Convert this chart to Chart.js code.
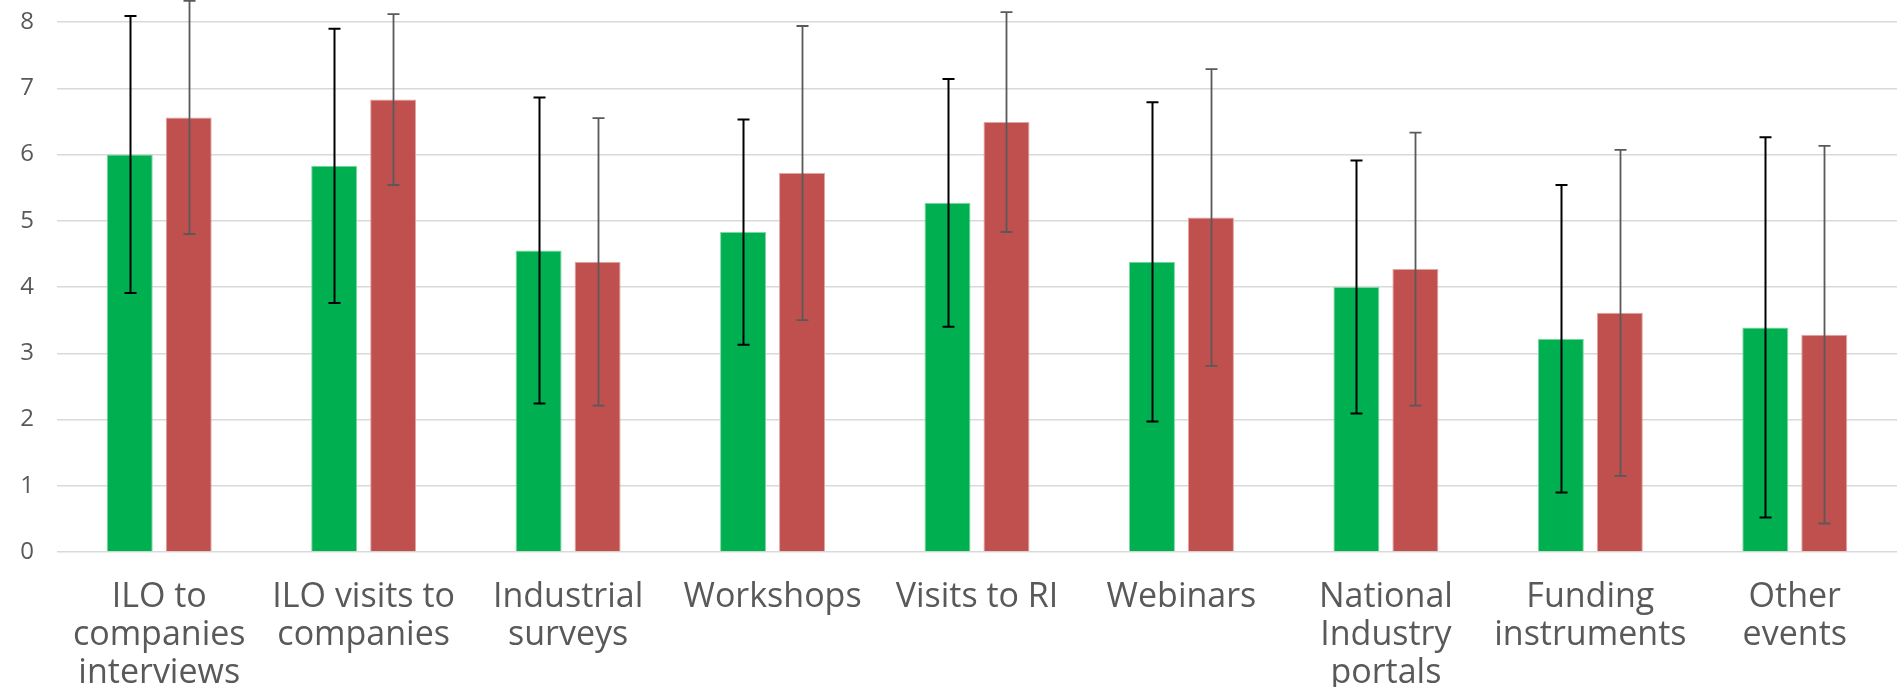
<!DOCTYPE html>
<html>
<head>
<meta charset="utf-8">
<script src="https://cdn.jsdelivr.net/npm/chart.js@4"></script>
<style>
  html, body { margin: 0; padding: 0; background: #fff; }
  #wrap { width: 1897px; height: 687px; }
</style>
</head>
<body>
<div id="wrap"><canvas id="myChart"></canvas></div>
<script>
const categories = [
  ['ILO to', 'companies', 'interviews'],
  ['ILO visits to', 'companies'],
  ['Industrial', 'surveys'],
  'Workshops',
  'Visits to RI',
  'Webinars',
  ['National', 'Industry', 'portals'],
  ['Funding', 'instruments'],
  ['Other', 'events']
]
const greenValues = [6.00, 5.83, 4.55, 4.83, 5.27, 4.38, 4.00, 3.22, 3.39]
const greenErrors = [2.09, 2.07, 2.31, 1.70, 1.87, 2.41, 1.91, 2.32, 2.87]
const redValues = [6.56, 6.83, 4.38, 5.72, 6.49, 5.05, 4.27, 3.61, 3.28]
const redErrors = [1.76, 1.29, 2.17, 2.22, 1.66, 2.24, 2.06, 2.46, 2.85]
const yTicks = [0, 1, 2, 3, 4, 5, 6, 7, 8]

// draws the +/- error whiskers from the dataset's errors array
const errorBars = {
  id: 'errorBars',
  afterDatasetsDraw(chart) {
    const ctx = chart.ctx
    const y = chart.scales.y
    chart.data.datasets.forEach((ds, i) => {
      const meta = chart.getDatasetMeta(i)
      ctx.save()
      ctx.strokeStyle = ds.errorColor
      ctx.lineWidth = ds.errorWidth
      meta.data.forEach((bar, j) => {
        const top = y.getPixelForValue(ds.data[j] + ds.errors[j])
        const bottom = y.getPixelForValue(ds.data[j] - ds.errors[j])
        const x = Math.round(bar.x) + 0.5
        ctx.beginPath()
        ctx.moveTo(x, top)
        ctx.lineTo(x, bottom)
        ctx.moveTo(x - 6, top)
        ctx.lineTo(x + 6, top)
        ctx.moveTo(x - 6, bottom)
        ctx.lineTo(x + 6, bottom)
        ctx.stroke()
      })
      ctx.restore()
    })
  }
}

new Chart('myChart', {
  type: 'bar',
  data: {
    labels: categories,
    datasets: [{
      data: greenValues,
      errors: greenErrors,
      errorColor: '#000000',
      errorWidth: 2,
      backgroundColor: '#00B050',
      borderColor: '#7fd6a3',
      borderWidth: 1,
      categoryPercentage: 0.577,
      barPercentage: 0.78
    },
    {
      data: redValues,
      errors: redErrors,
      errorColor: '#595959',
      errorWidth: 1.8,
      backgroundColor: '#C0504D',
      borderColor: '#e0a5a3',
      borderWidth: 1,
      categoryPercentage: 0.577,
      barPercentage: 0.78
    }]
  },
  options: {
    responsive: true,
    maintainAspectRatio: false,
    animation: false,
    layout: { padding: { left: 0, top: 22, right: 0, bottom: 0 } },
    plugins: {
      legend: { display: false },
      tooltip: { enabled: false }
    },
    scales: {
      x: {
        grid: { display: false },
        border: { display: false },
        afterFit: (axis) => { axis.height = 135; axis.paddingLeft = 0; axis.paddingRight = 0 },
        ticks: {
          color: '#595959',
          font: { family: 'Open Sans', size: 34, lineHeight: 1.12 },
          padding: 18,
          maxRotation: 0,
          autoSkip: false
        }
      },
      y: {
        min: 0,
        max: 8,
        afterBuildTicks: (axis) => { axis.ticks = yTicks.map(v => ({ value: v })) },
        afterFit: (axis) => { axis.width = 57; axis.paddingTop = 0; axis.paddingBottom = 0 },
        grid: { color: '#d9d9d9', lineWidth: 1.5, drawTicks: false },
        border: { display: false },
        ticks: {
          color: '#595959',
          font: { family: 'Open Sans', size: 24 },
          padding: 23
        }
      }
    }
  },
  plugins: [errorBars]
})
</script>
</body>
</html>
